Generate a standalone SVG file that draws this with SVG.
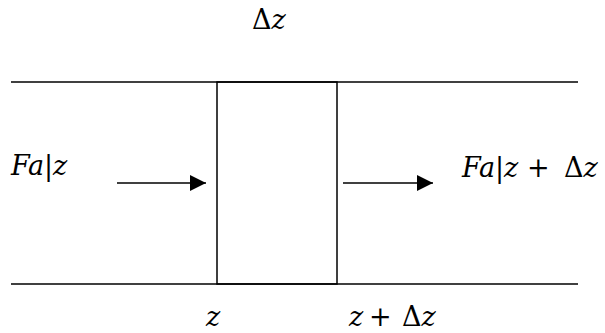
<svg xmlns="http://www.w3.org/2000/svg" width="605" height="333" viewBox="0 0 605 333">
<style>
.ln{stroke:#000;stroke-width:1.5;fill:none}
.t{font-family:"DejaVu Serif","Liberation Serif",serif;font-size:27px;fill:#000}
.i{font-style:italic}
</style>
<defs>
<marker id="ah" markerWidth="16" markerHeight="16" refX="16" refY="8" orient="auto" markerUnits="userSpaceOnUse">
<path d="M0,0 L16,8 L0,16 Z" fill="#000"/>
</marker>
</defs>
<rect width="605" height="333" fill="#fff"/>
<g id="channel">
<line class="ln" x1="11" y1="82" x2="578" y2="82"/>
<line class="ln" x1="11" y1="284" x2="578" y2="284"/>
</g>
<g id="element">
<rect class="ln" x="217" y="82" width="120" height="202"/>
</g>
<g id="connectors">
<line class="ln" x1="117" y1="183" x2="206" y2="183" marker-end="url(#ah)"/>
<line class="ln" x1="343" y1="183" x2="433" y2="183" marker-end="url(#ah)"/>
</g>
<g id="labels">
<text class="t" x="252" y="29">Δ<tspan class="i">z</tspan></text>
<text class="t" x="11" y="175"><tspan class="i">Fa</tspan>|<tspan class="i">z</tspan></text>
<text class="t" y="177"><tspan x="462" class="i">Fa</tspan><tspan>|</tspan><tspan class="i">z</tspan><tspan x="527">+</tspan><tspan x="564">Δ</tspan><tspan class="i">z</tspan></text>
<text class="t i" x="206" y="326">z</text>
<text class="t" y="326"><tspan x="349" class="i">z</tspan><tspan x="369">+</tspan><tspan x="402">Δ</tspan><tspan class="i">z</tspan></text>
</g>
</svg>
